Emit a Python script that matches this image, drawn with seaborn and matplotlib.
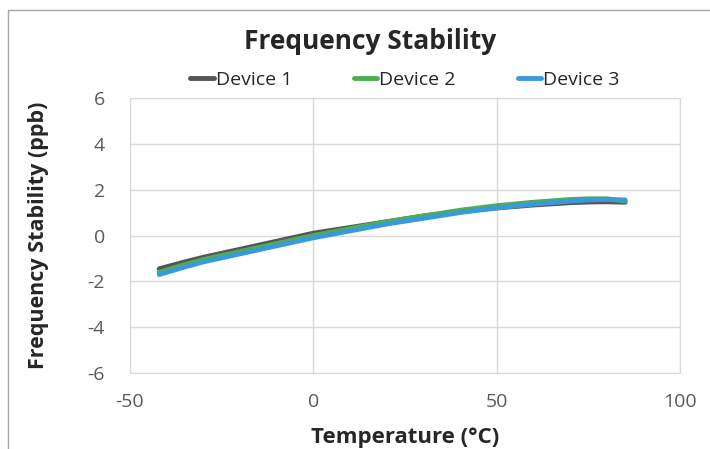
import pandas as pd
import matplotlib.pyplot as plt
import matplotlib.patches as mpatches
import seaborn as sns

# Temperature sweep points (°C) and frequency stability (ppb) per device
temps = [-42, -35, -30, -20, -10, 0, 10, 20, 30, 40, 50, 60, 70, 75, 80, 85]
device1 = [-1.45, -1.15, -0.95, -0.6, -0.25, 0.1, 0.35, 0.6, 0.85, 1.05, 1.2, 1.33, 1.43, 1.46, 1.47, 1.45]
device2 = [-1.6, -1.27, -1.05, -0.7, -0.35, 0.0, 0.3, 0.6, 0.85, 1.1, 1.3, 1.45, 1.57, 1.6, 1.6, 1.5]
device3 = [-1.7, -1.37, -1.15, -0.8, -0.45, -0.1, 0.2, 0.5, 0.75, 1.0, 1.2, 1.37, 1.5, 1.55, 1.57, 1.55]

devices = ["Device 1", "Device 2", "Device 3"]
colors = ["#555555", "#4caf50", "#3a9ad9"]


def build_frame():
    """Stack the device series into one long table."""
    rows = []
    for name, vals in zip(devices, [device1, device2, device3]):
        for t, v in zip(temps, vals):
            rows.append({"Temperature": t, "Stability": v, "Device": name})
    return pd.DataFrame(rows)


def main():
    sns.set_style("white")
    plt.rcParams["font.family"] = ["Open Sans", "DejaVu Sans"]
    plt.rcParams["axes.unicode_minus"] = False

    df = build_frame()
    fig = plt.figure(figsize=(7.1, 4.49), dpi=100)
    ax = fig.add_axes([0.183, 0.169, 0.775, 0.613])

    sns.lineplot(data=df, x="Temperature", y="Stability", hue="Device",
                 palette=colors, linewidth=3.5, ax=ax, sort=False,
                 legend=True)

    ax.set_xlim(-50, 100)
    ax.set_ylim(-6, 6)
    ax.set_xticks([-50, 0, 50, 100])
    ax.set_yticks([-6, -4, -2, 0, 2, 4, 6])
    ax.grid(True, color="#d9d9d9", linewidth=1)
    for s in ax.spines.values():
        s.set_color("#d9d9d9")
    ax.tick_params(colors="#595959", labelsize=14, length=0)
    ax.tick_params(axis="x", pad=14)
    ax.tick_params(axis="y", pad=18)

    ax.set_xlabel("Temperature (°C)", fontsize=16, fontweight="bold",
                  labelpad=12)
    ax.set_ylabel("Frequency Stability (ppb)", fontsize=15.5,
                  fontweight="bold", labelpad=28)

    ax.legend(loc="center", bbox_to_anchor=(0.5, 1.065), ncol=3,
              frameon=False, fontsize=14, handlelength=1.2,
              handletextpad=0.1, columnspacing=3.2, borderaxespad=0)

    fig.suptitle("Frequency Stability", x=0.522, y=0.937, fontsize=19,
                 fontweight="bold")

    # outer chart border
    fig.patches.append(mpatches.Rectangle((8 / 710, -0.1), 1.2,
                                          1.1 - 10 / 449,
                                          transform=fig.transFigure,
                                          fill=False, edgecolor="#a6a6a6",
                                          linewidth=1))

    fig.savefig("out.png", dpi=100)
    plt.close(fig)


if __name__ == "__main__":
    main()
